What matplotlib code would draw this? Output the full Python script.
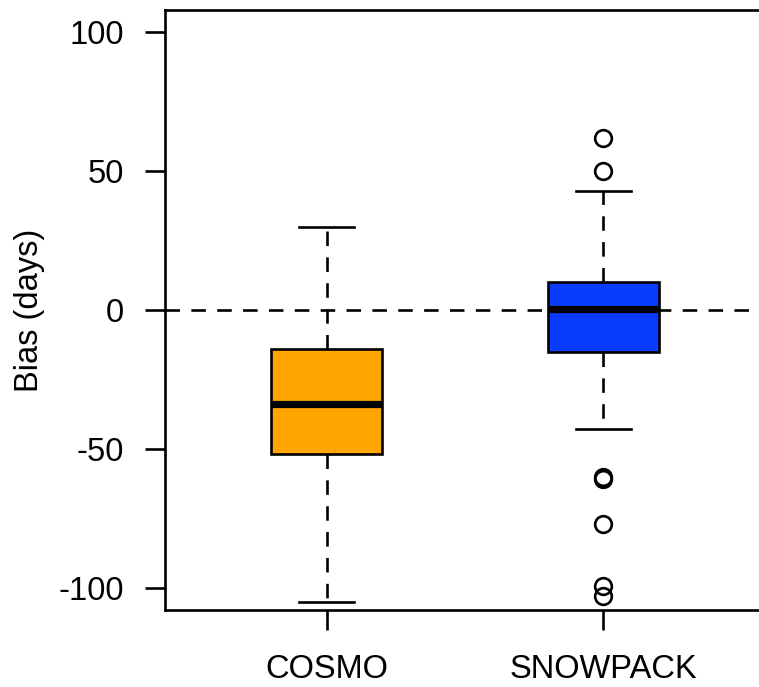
import matplotlib.pyplot as plt

plt.rcParams['font.family'] = ['Liberation Sans', 'DejaVu Sans']

models = ["COSMO", "SNOWPACK"]
colors = ["#ffa500", "#0a3cff"]

# box statistics (days)
medians = [-34, 0.5]
q1 = [-52, -15]
q3 = [-14, 10]
whis_lo = [-105, -43]
whis_hi = [30, 43]
fliers = [[], [62, 50, -60, -61, -77, -99.5, -103]]

stats = []
for i in range(len(models)):
    stats.append({"med": medians[i], "q1": q1[i], "q3": q3[i],
                  "whislo": whis_lo[i], "whishi": whis_hi[i],
                  "fliers": fliers[i], "label": models[i]})

fig = plt.figure(figsize=(7.59, 6.87), dpi=100)
ax = fig.add_axes([165/759, 77/687, 600/759, 600/687])

lw = 1.9
dash = (0, (5.5, 4.3))
ax.axhline(0, color="black", lw=lw, linestyle=dash, zorder=1)

bp = ax.bxp(stats, positions=[1, 2], widths=0.4, patch_artist=True,
            boxprops=dict(lw=lw, edgecolor="black"),
            medianprops=dict(color="black", lw=5.2, solid_capstyle="butt"),
            whiskerprops=dict(color="black", lw=lw, linestyle=dash),
            capprops=dict(color="black", lw=lw),
            flierprops=dict(marker="o", markersize=12, markerfacecolor="none",
                            markeredgecolor="black", markeredgewidth=lw),
            zorder=2)
for patch, c in zip(bp["boxes"], colors):
    patch.set_facecolor(c)

ax.set_xlim(0.415, 2.585)
ax.set_ylim(-108, 108)
ax.set_yticks([-100, -50, 0, 50, 100])
ax.set_yticklabels(["-100", "-50", "0", "50", "100"])
ax.tick_params(axis="both", direction="out", length=14.4, width=lw,
               labelsize=23.5, pad=15)
ax.tick_params(axis="x", pad=17)
for s in ax.spines.values():
    s.set_linewidth(lw)

ax.set_ylabel("Bias (days)", fontsize=23.5)
ax.yaxis.set_label_coords(-0.2, 0.5)

fig.savefig("out.png", dpi=100)
